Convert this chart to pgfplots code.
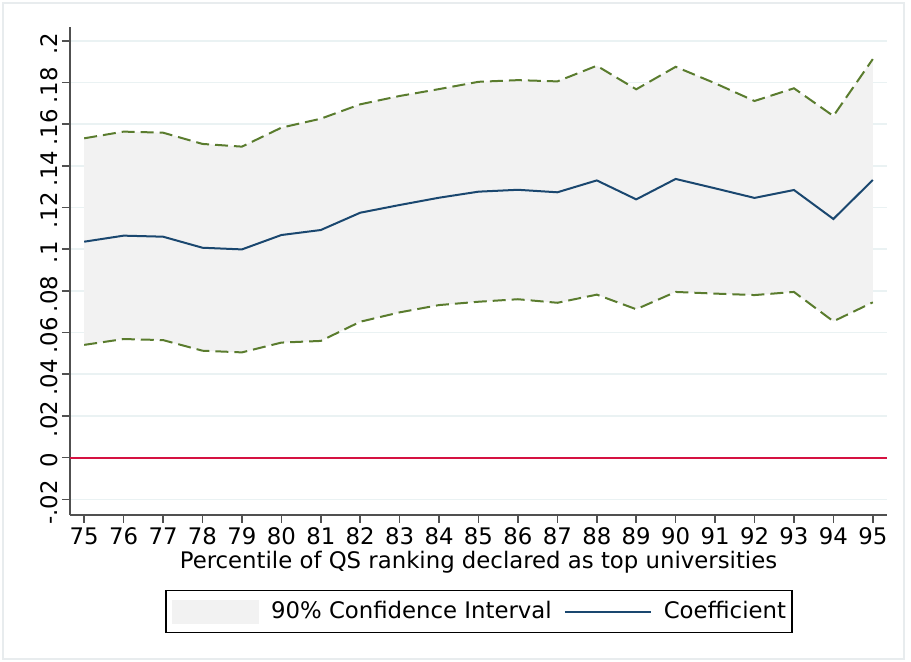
\documentclass[border=0pt]{standalone}
\usepackage{pgfplots}
\pgfplotsset{compat=1.18}
\usepgfplotslibrary{fillbetween}
\usepackage{fontspec}
\setmainfont{DejaVu Sans}
\definecolor{navyc}{RGB}{26,71,111}
\definecolor{ciGreen}{RGB}{90,124,46}
\definecolor{ciFill}{RGB}{242,242,242}
\definecolor{gridc}{RGB}{234,242,243}
\definecolor{zeroRed}{RGB}{213,18,65}
\definecolor{axgray}{RGB}{80,80,80}
\definecolor{framec}{RGB}{232,236,238}

\pgfplotstableread{
x coef lower upper
75 0.1036 0.0541 0.1532
76 0.1065 0.0569 0.1564
77 0.1060 0.0564 0.1559
78 0.1007 0.0513 0.1505
79 0.0999 0.0505 0.1492
80 0.1068 0.0552 0.1583
81 0.1092 0.0560 0.1626
82 0.1175 0.0652 0.1695
83 0.1212 0.0697 0.1735
84 0.1247 0.0732 0.1768
85 0.1276 0.0748 0.1803
86 0.1285 0.0760 0.1811
87 0.1273 0.0743 0.1805
88 0.1330 0.0782 0.1880
89 0.1239 0.0712 0.1767
90 0.1337 0.0795 0.1875
91 0.1292 0.0787 0.1796
92 0.1246 0.0780 0.1711
93 0.1284 0.0795 0.1772
94 0.1145 0.0654 0.1639
95 0.1332 0.0745 0.1912
}\datatable

\begin{document}
\begin{tikzpicture}[font=\fontsize{11.4}{13.7}\selectfont]
\path (0pt,0pt) rectangle (455.5pt,331pt);
\draw[framec, line width=0.8pt] (1.5pt,1.5pt) rectangle (452pt,329.5pt);
\begin{axis}[
  at={(35pt,73.5pt)}, anchor=south west,
  scale only axis, width=408.5pt, height=244pt,
  set layers,
  xmin=74.64, xmax=95.36, ymin=-0.0275, ymax=0.2066,
  axis x line=bottom, axis y line=left,
  axis line style={-, axgray, line width=1pt},
  xtick={75,76,...,95},
  ytick={-0.02,0,0.02,0.04,0.06,0.08,0.1,0.12,0.14,0.16,0.18,0.2},
  yticklabels={-.02,0,.02,.04,.06,.08,.1,.12,.14,.16,.18,.2},
  /pgf/number format/assume math mode=true,
  tick align=outside, major tick length=4pt,
  tick style={axgray, line width=0.8pt},
  yticklabel style={rotate=90, anchor=south, inner sep=2pt, xshift=-1.5pt},
  xticklabel style={inner sep=2pt},
  ymajorgrids, grid style={gridc, line width=0.8pt},
  xlabel={Percentile of QS ranking declared as top universities},
  xlabel style={inner sep=0pt, yshift=-1pt},
  legend style={at={(0.5006,-0.1537)}, anchor=north, legend columns=2,
    draw=black, line width=0.6pt, inner xsep=3pt, inner ysep=4.5pt,
    /tikz/column sep=6pt,
    nodes={inner sep=0pt}},
  legend cell align=left,
]
\addplot[name path=upper, ciGreen, line width=1pt, dash pattern=on 6.5pt off 3pt, forget plot] table[x=x, y=upper]{\datatable};
\addplot[name path=lower, ciGreen, line width=1pt, dash pattern=on 6.5pt off 3pt, forget plot] table[x=x, y=lower]{\datatable};
\addplot[ciFill, legend image code/.code={\fill[ciFill] (0pt,-5.75pt) rectangle (43pt,5.75pt);}] fill between[of=upper and lower];
\addlegendentry{90\% Confidence Interval}
\addplot[navyc, line width=1pt, legend image code/.code={\draw[navyc, line width=1pt] (0pt,0pt) -- (43pt,0pt);}] table[x=x, y=coef]{\datatable};
\addlegendentry{Coefficient}
\addplot[zeroRed, line width=1pt, forget plot] coordinates {(74.64,0) (95.36,0)};
\end{axis}
\end{tikzpicture}
\end{document}
